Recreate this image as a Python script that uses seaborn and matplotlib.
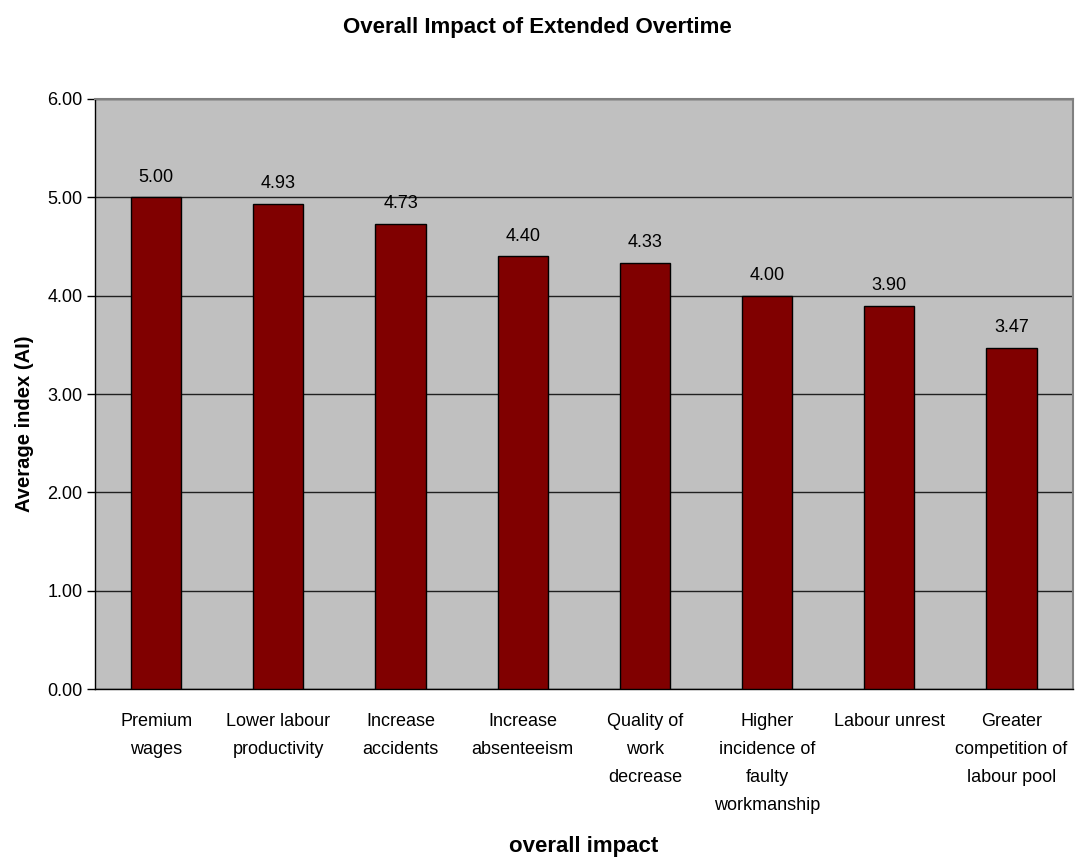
import numpy as np
import pandas as pd
import matplotlib.pyplot as plt
import seaborn as sns

# chart data
categories = ["Premium\nwages", "Lower labour\nproductivity", "Increase\naccidents",
              "Increase\nabsenteeism", "Quality of\nwork\ndecrease",
              "Higher\nincidence of\nfaulty\nworkmanship", "Labour unrest",
              "Greater\ncompetition of\nlabour pool"]
values = [5.00, 4.93, 4.73, 4.40, 4.33, 4.00, 3.90, 3.47]
y_ticks = [0, 1, 2, 3, 4, 5, 6]

sns.set_theme(style="white")
plt.rcParams['font.family'] = ['Liberation Sans', 'DejaVu Sans']
plt.rcParams['text.color'] = 'black'
plt.rcParams['axes.labelcolor'] = 'black'
plt.rcParams['xtick.color'] = 'black'
plt.rcParams['ytick.color'] = 'black'

df = pd.DataFrame({"impact": categories, "ai": values})

fig = plt.figure(figsize=(10.75, 8.6), dpi=100)
ax = fig.add_axes([0.0884, 0.1988, 0.9094, 0.6861])
ax.set_facecolor("#C0C0C0")

sns.barplot(data=df, x="impact", y="ai", color="#800000", width=0.41,
            edgecolor="black", linewidth=1, saturation=1, ax=ax, zorder=3)

# gridlines
ax.set_axisbelow(True)
ax.yaxis.grid(True, color="#202020", linewidth=1, zorder=0)
ax.xaxis.grid(False)

ax.set_ylim(0, 6)
ax.set_xlim(-0.5, len(categories) - 0.5)
ax.set_yticks(y_ticks)
ax.set_yticklabels([f"{v:.2f}" for v in y_ticks], fontsize=13)

# category labels without tick marks, tick marks at boundaries
ax.set_xticks(range(len(categories)))
ax.set_xticklabels(categories, fontsize=13, linespacing=1.85, va="top")
ax.tick_params(axis="x", length=0, pad=17)
ax.set_xticks(np.arange(-0.5, len(categories), 1), minor=True)
ax.tick_params(axis="x", which="minor", length=6, width=1, color="black", direction="out")
ax.tick_params(axis="y", length=6, width=1, color="black", direction="out", left=True, pad=3)

for i, v in enumerate(values):
    ax.text(i, v + 0.12, f"{v:.2f}", ha="center", va="bottom", fontsize=13)

for side in ["left", "bottom"]:
    ax.spines[side].set_color("black")
    ax.spines[side].set_linewidth(1)
for side in ["top", "right"]:
    ax.spines[side].set_color("#808080")
    ax.spines[side].set_linewidth(1.5)

ax.set_ylabel("Average index (AI)", fontsize=14.5, fontweight="bold")
ax.yaxis.set_label_coords(-0.062, 0.449)
ax.set_xlabel("overall impact", fontsize=16, fontweight="bold")
ax.xaxis.set_label_coords(0.5, -0.249)
fig.text(0.5, 0.968, "Overall Impact of Extended Overtime", ha="center", va="center",
         fontsize=16, fontweight="bold")

fig.savefig("out.png", dpi=100)
